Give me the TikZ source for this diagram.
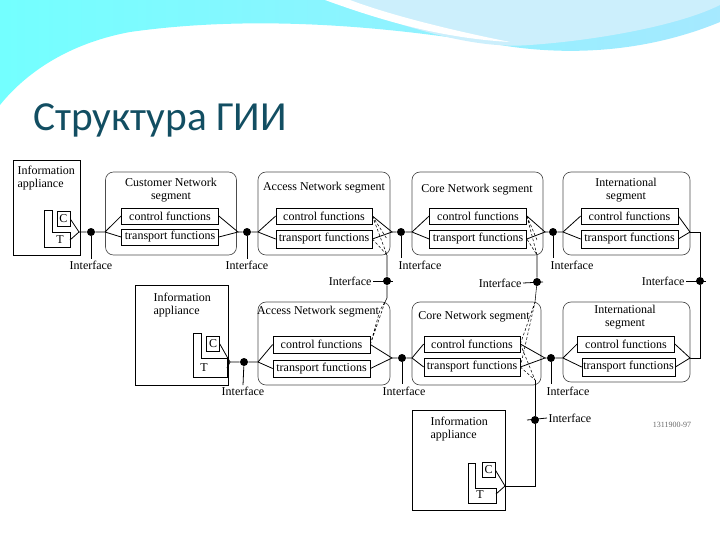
\documentclass[tikz,border=0pt]{standalone}
\usepackage{fontspec}
\setmainfont{Liberation Serif}
\newfontfamily\ttl{Carlito}
\definecolor{ttlc}{RGB}{18,78,98}
\begin{document}
\begin{tikzpicture}[x=0.75pt,y=-0.75pt,
  seg/.style={draw=black!70,rounded corners=6pt,line width=0.5pt},
  fn/.style={draw,line width=0.5pt,inner sep=0pt,font=\fontsize{9}{10}\selectfont},
  ia/.style={draw,line width=0.6pt},
  lbl/.style={font=\fontsize{9}{10}\selectfont,inner sep=1pt},
  dot/.style={circle,fill=black,inner sep=0pt,minimum size=6pt},
  ln/.style={line width=0.6pt},
  dl/.style={line width=0.4pt,dash pattern=on 2pt off 1.5pt}]
\newcommand\bx[7]{\node[#1,minimum width=#5*0.75pt,minimum height=#6*0.75pt] (#2) at (#3,#4) {#7};}
\useasboundingbox (0,0) rectangle (720,540);
% banner
\shade[left color=cyan!55!white,right color=blue!25!cyan!35!white]
 (0,0) -- (720,0) -- (720,22) .. controls (640,55) and (560,55) .. (500,45)
 .. controls (380,25) and (250,15) .. (130,32) .. controls (60,45) and (20,80) .. (0,105) -- cycle;
\fill[cyan!20!white] (330,0) .. controls (400,25) and (470,50) .. (530,45) .. controls (600,40) and (680,25) .. (720,5) -- (720,0) -- cycle;
\fill[white] (325,0) .. controls (380,20) and (440,38) .. (510,42) .. controls (450,30) and (390,15) .. (350,0) -- cycle;
\node[anchor=west,text=ttlc,font=\ttl\fontsize{31}{34}\selectfont,inner sep=0] (title) at (33,120) {Структура ГИИ};
% ---------- row 1
\bx{ia}{ia1}{46.5}{207.5}{67}{95}{}
\node[lbl,anchor=north west,align=left] (ia1t) at (16,164) {Information\\appliance};
\draw[ln] (44,210) -- (52,210) -- (52,232) -- (70,232) -- (70,247) -- (44,247) -- cycle;
\bx{fn}{c1}{63.5}{219}{13}{15}{C}
\node[lbl] (t1) at (60,240) {T};
\coordinate (k1) at (79,232);
\draw[ln] (c1.east) -- (k1) -- (70,240);
\node[dot] (d1) at (91,232) {};
\node[lbl] (i1) at (91,265) {Interface};
\draw[ln] (d1) -- (i1.north);
\bx{seg}{cn}{171}{213.5}{131}{83}{}
\node[lbl,align=center] (cnt) at (171,190) {Customer Network\\segment};
\bx{fn}{cnc}{170}{216}{97}{16}{control functions}
\bx{fn}{cnt2}{170}{237}{97}{16}{transport functions}
\coordinate (cnl) at (105,232);
\coordinate (cnr) at (238,232);
\draw[ln] (k1) -- (d1) -- (cnl) -- (cnc.west) (cnl) -- (cnt2.west);
\draw[ln] (cnc.east) -- (cnr) -- (cnt2.east);
\node[dot] (d2) at (247,232) {};
\node[lbl] (i2) at (247,265) {Interface};
\draw[ln] (d2) -- (i2.north);
\bx{seg}{an}{324}{213.5}{132}{83}{}
\node[lbl] (ant) at (324,188) {Access Network segment};
\bx{fn}{anc}{324}{216}{96}{16}{control functions}
\bx{fn}{ant2}{324}{239}{96}{18}{transport functions}
\coordinate (anl) at (258,232);
\coordinate (anr) at (392,232);
\coordinate (anb) at (387,255);
\draw[ln] (cnr) -- (d2) -- (anl) -- (anc.west) (anl) -- (ant2.west);
\draw[ln] (anc.east) -- (anr) -- (ant2.east);
\draw[dl] (anc.east) -- (anb) -- (ant2.east) (anc.east) -- (ant2.east -| 387,0) ;
\node[dot] (d3) at (401,232) {};
\node[lbl] (i3) at (420,265) {Interface};
\draw[ln] (d3) -- (401,258);
\bx{seg}{co}{477.5}{213.5}{131}{83}{}
\node[lbl] (cot) at (477,190) {Core Network segment};
\bx{fn}{coc}{478}{216}{97}{16}{control functions}
\bx{fn}{cot2}{478}{239}{97}{18}{transport functions}
\coordinate (col) at (412,232);
\coordinate (cor) at (545,232);
\coordinate (cob) at (537,255);
\draw[ln] (anr) -- (d3) -- (col) -- (coc.west) (col) -- (cot2.west);
\draw[ln] (coc.east) -- (cor) -- (cot2.east);
\draw[dl] (coc.east) -- (cob) -- (cot2.east) (coc.east) -- (537,240);
\node[dot] (d4) at (553,232) {};
\node[lbl] (i4) at (572,265) {Interface};
\draw[ln] (d4) -- (553,258);
\bx{seg}{in}{626.5}{213.5}{127}{83}{}
\node[lbl,align=center] (int) at (626,190) {International\\segment};
\bx{fn}{inc}{629.5}{216}{97}{16}{control functions}
\bx{fn}{int2}{629.5}{239}{97}{18}{transport functions}
\coordinate (inl) at (563,232);
\coordinate (inr) at (690,232);
\draw[ln] (cor) -- (d4) -- (inl) -- (inc.west) (inl) -- (int2.west);
\draw[ln] (inc.east) -- (inr) -- (int2.east);
% verticals between rows
\node[dot] (v1) at (387,281) {};
\node[lbl,anchor=east] (vi1) at (373,281) {Interface};
\draw[ln] (vi1.east) -- (393,281);
\node[dot] (v2) at (537,282) {};
\node[lbl,anchor=east] (vi2) at (523,283) {Interface};
\draw[ln] (vi2.east) -- (543,282);
\node[dot] (v3) at (700,281) {};
\node[lbl,anchor=east] (vi3) at (686,281) {Interface};
\draw[ln] (vi3.east) -- (706,281);
\coordinate (a2t) at (385,302);
\coordinate (c2t) at (535,302);
\coordinate (c2b) at (535,380);
\coordinate (i2r) at (690,358);
\draw[line width=0.4pt] (anb) -- (v1) -- (387,298) -- (a2t);
\draw[line width=0.4pt] (cob) -- (v2) -- (c2t);
\draw[ln] (inr) -- (700,232) -- (v3) -- (700,358) -- (i2r);
% ---------- row 2
\bx{ia}{ia2}{181.5}{335}{93}{100}{}
\node[lbl,anchor=north west,align=left] (ia2t) at (152,291) {Information\\appliance};
\draw[ln] (193,333) -- (201,333) -- (201,358) -- (227,358) -- (227,377) -- (193,377) -- cycle;
\bx{fn}{c2}{213}{344}{13}{15}{C}
\node[lbl] (t2) at (204,368) {T};
\coordinate (k2) at (230,362);
\draw[ln] (c2.east) -- (k2) -- (227,368);
\node[dot] (d5) at (244,362) {};
\node[lbl] (i5) at (243,391) {Interface};
\draw[ln] (d5) -- (i5.north);
\bx{seg}{an2}{324}{343.5}{132}{83}{}
\node[lbl] (an2t) at (318,312) {Access Network segment};
\bx{fn}{an2c}{321.5}{344.5}{97}{17}{control functions}
\bx{fn}{an2t2}{321.5}{368.5}{97}{17}{transport functions}
\coordinate (an2l) at (258,362);
\coordinate (an2r) at (392,358);
\draw[ln] (k2) -- (d5) -- (an2l) -- (an2c.west) (an2l) -- (an2t2.west);
\draw[ln] (an2c.east) -- (an2r) -- (an2t2.east);
\draw[dl] (an2c.east) -- (a2t) (an2c.east) -- (380,310) -- (a2t);
\node[dot] (d6) at (402,358) {};
\node[lbl] (i6) at (404,391) {Interface};
\draw[ln] (d6) -- (402,384);
\bx{seg}{co2}{476.5}{343.5}{129}{83}{}
\node[lbl] (co2t) at (474,317) {Core Network segment};
\bx{fn}{co2c}{472}{344}{96}{16}{control functions}
\bx{fn}{co2t2}{472}{367}{96}{18}{transport functions}
\coordinate (co2l) at (412,358);
\coordinate (co2r) at (545,358);
\draw[ln] (an2r) -- (d6) -- (co2l) -- (co2c.west) (co2l) -- (co2t2.west);
\draw[ln] (co2c.east) -- (co2r) -- (co2t2.east);
\draw[dl] (co2c.east) -- (c2t) (co2t2.east) -- (c2t) (co2c.east) -- (c2b) -- (co2t2.east);
\node[dot] (d7) at (551,358) {};
\node[lbl] (i7) at (568,391) {Interface};
\draw[ln] (d7) -- (551,384);
\bx{seg}{in2}{626.5}{342}{127}{80}{}
\node[lbl,align=center] (in2t) at (625,317) {International\\segment};
\bx{fn}{in2c}{626}{344}{97}{16}{control functions}
\bx{fn}{in2t2}{628.5}{367}{93}{18}{transport functions}
\coordinate (in2l) at (563,358);
\draw[ln] (co2r) -- (d7) -- (in2l) -- (in2c.west) (in2l) -- (in2t2.west);
\draw[ln] (in2c.east) -- (i2r) -- (in2t2.east);
% ---------- row 3
\bx{ia}{ia3}{458.5}{460}{93}{100}{}
\node[lbl,anchor=north west,align=left] (ia3t) at (429,415) {Information\\appliance};
\draw[ln] (468,463) -- (475,463) -- (475,488) -- (496,488) -- (496,503) -- (468,503) -- cycle;
\bx{fn}{c3}{488.5}{470}{13}{15}{C}
\node[lbl] (t3) at (480,495) {T};
\coordinate (k3) at (505,486);
\draw[ln] (c3.east) -- (k3) -- (496,494);
\node[dot] (v4) at (535,420) {};
\node[lbl,anchor=west] (vi4) at (547,418) {Interface};
\draw[ln] (527,420) -- (vi4.west);
\draw[line width=0.4pt] (c2b) -- (v4) -- (535,486) -- (k3);
\node[font=\fontsize{6}{7}\selectfont,text=black!60] (code) at (672,425) {1311900-97};
\end{tikzpicture}
\end{document}
